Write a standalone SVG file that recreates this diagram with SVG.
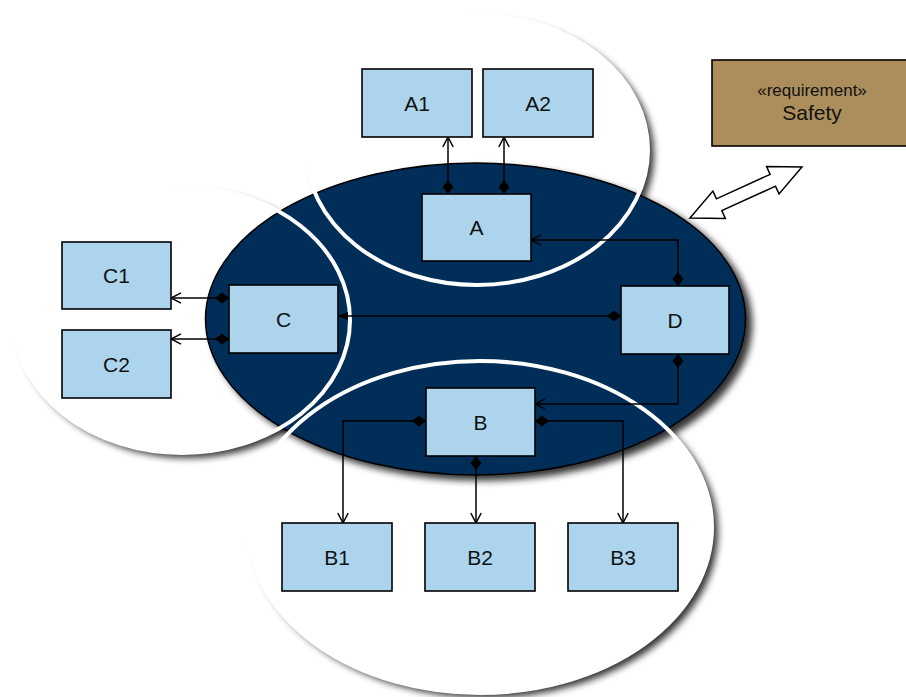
<svg xmlns="http://www.w3.org/2000/svg" width="906" height="697" viewBox="0 0 906 697">
  <style>
    .node rect { fill: #acd5ed; stroke: #000; stroke-width: 1.6; }
    .node text { font-family: "Liberation Sans", Arial, sans-serif; font-size: 21px; fill: #111; text-anchor: middle; }
    .zone { fill: #fff; filter: url(#shadow); }
    .zone-line { fill: none; stroke: #fff; stroke-width: 4; }
    .core { fill: #022d59; stroke: #000; stroke-width: 1.5; filter: url(#shadow); }
    .conn path { fill: none; stroke: #000; stroke-width: 1.5; }
    .comp { marker-start: url(#diamond); marker-end: url(#open); }
    .req rect { fill: #ab8e5b; stroke: #000; stroke-width: 1.6; }
    .req text { font-family: "Liberation Sans", Arial, sans-serif; fill: #111; text-anchor: middle; }
  </style>
  <defs>
    <filter id="shadow" x="-10%" y="-10%" width="125%" height="125%">
      <feGaussianBlur in="SourceAlpha" stdDeviation="3.5"/>
      <feOffset dx="6" dy="5" result="b"/>
      <feComponentTransfer><feFuncA type="linear" slope="0.8"/></feComponentTransfer>
      <feMerge><feMergeNode/><feMergeNode in="SourceGraphic"/></feMerge>
    </filter>
    <marker id="diamond" viewBox="0 0 16 12" refX="1" refY="6" markerWidth="16" markerHeight="12" markerUnits="userSpaceOnUse" orient="auto">
      <path d="M1,6 L8,0.5 L15,6 L8,11.5 Z" fill="#000"/>
    </marker>
    <marker id="open" viewBox="0 0 12 12" refX="11" refY="6" markerWidth="12" markerHeight="12" markerUnits="userSpaceOnUse" orient="auto">
      <path d="M1,0.8 L11,6 L1,11.2" fill="none" stroke="#000" stroke-width="1.5"/>
    </marker>
    <marker id="solid" viewBox="0 0 10 8" refX="10" refY="4" markerWidth="10" markerHeight="8" markerUnits="userSpaceOnUse" orient="auto">
      <path d="M0,0 L10,4 L0,8 Z" fill="#000"/>
    </marker>
  </defs>

  <!-- grouping regions -->
  <g id="regions">
    <ellipse class="zone" cx="480" cy="527" rx="232" ry="166"/>
    <ellipse class="zone" cx="182" cy="320" rx="168" ry="133"/>
    <ellipse class="zone" cx="477" cy="150" rx="171" ry="135"/>
    <ellipse class="core" cx="475.5" cy="319" rx="270" ry="156"/>
    <ellipse class="zone-line" cx="480" cy="527" rx="232" ry="166"/>
    <ellipse class="zone-line" cx="182" cy="320" rx="168" ry="133"/>
    <ellipse class="zone-line" cx="477" cy="150" rx="171" ry="135"/>
  </g>

  <!-- connectors -->
  <g id="connectors" class="conn">
    <path class="comp" d="M448,194 V137"/>
    <path class="comp" d="M504,194 V137"/>
    <path class="comp" d="M678,286 V240 H531"/>
    <path d="M621,316 H338" marker-start="url(#diamond)" marker-end="url(#solid)"/>
    <path class="comp" d="M678,354 V404 H535"/>
    <path class="comp" d="M229,298 H171"/>
    <path class="comp" d="M229,339 H171"/>
    <path class="comp" d="M426,421 H343 V523"/>
    <path class="comp" d="M476,456 V523"/>
    <path class="comp" d="M535,421 H623 V523"/>
    <path transform="translate(690,218) rotate(-24.5)" d="M0,0 L32,-15 L32,-6.5 L91,-6.5 L91,-15 L123,0 L91,15 L91,6.5 L32,6.5 L32,15 Z" fill="#fff" stroke="#000" stroke-width="1.5"/>
  </g>

  <!-- blocks -->
  <g id="A1" class="node"><rect x="362" y="69" width="110" height="68"/><text x="417" y="110.5">A1</text></g>
  <g id="A2" class="node"><rect x="483" y="69" width="110" height="68"/><text x="538" y="110.5">A2</text></g>
  <g id="A" class="node"><rect x="422" y="194" width="109" height="67"/><text x="476.5" y="235">A</text></g>
  <g id="C1" class="node"><rect x="62" y="242" width="109" height="67"/><text x="116.5" y="283">C1</text></g>
  <g id="C2" class="node"><rect x="62" y="330" width="109" height="68"/><text x="116.5" y="371.5">C2</text></g>
  <g id="C" class="node"><rect x="229" y="285" width="109" height="68"/><text x="283.5" y="326.5">C</text></g>
  <g id="D" class="node"><rect x="621" y="286" width="108" height="68"/><text x="675" y="327.5">D</text></g>
  <g id="B" class="node"><rect x="426" y="388" width="109" height="68"/><text x="480.5" y="429.5">B</text></g>
  <g id="B1" class="node"><rect x="282" y="523" width="110" height="68"/><text x="337" y="564.5">B1</text></g>
  <g id="B2" class="node"><rect x="425" y="523" width="110" height="68"/><text x="480" y="564.5">B2</text></g>
  <g id="B3" class="node"><rect x="568" y="523" width="110" height="68"/><text x="623" y="564.5">B3</text></g>

  <g id="Safety" class="req">
    <rect x="712" y="60" width="200" height="86"/>
    <text x="812" y="96" font-size="17">«requirement»</text>
    <text x="812" y="120" font-size="21">Safety</text>
  </g>
</svg>
